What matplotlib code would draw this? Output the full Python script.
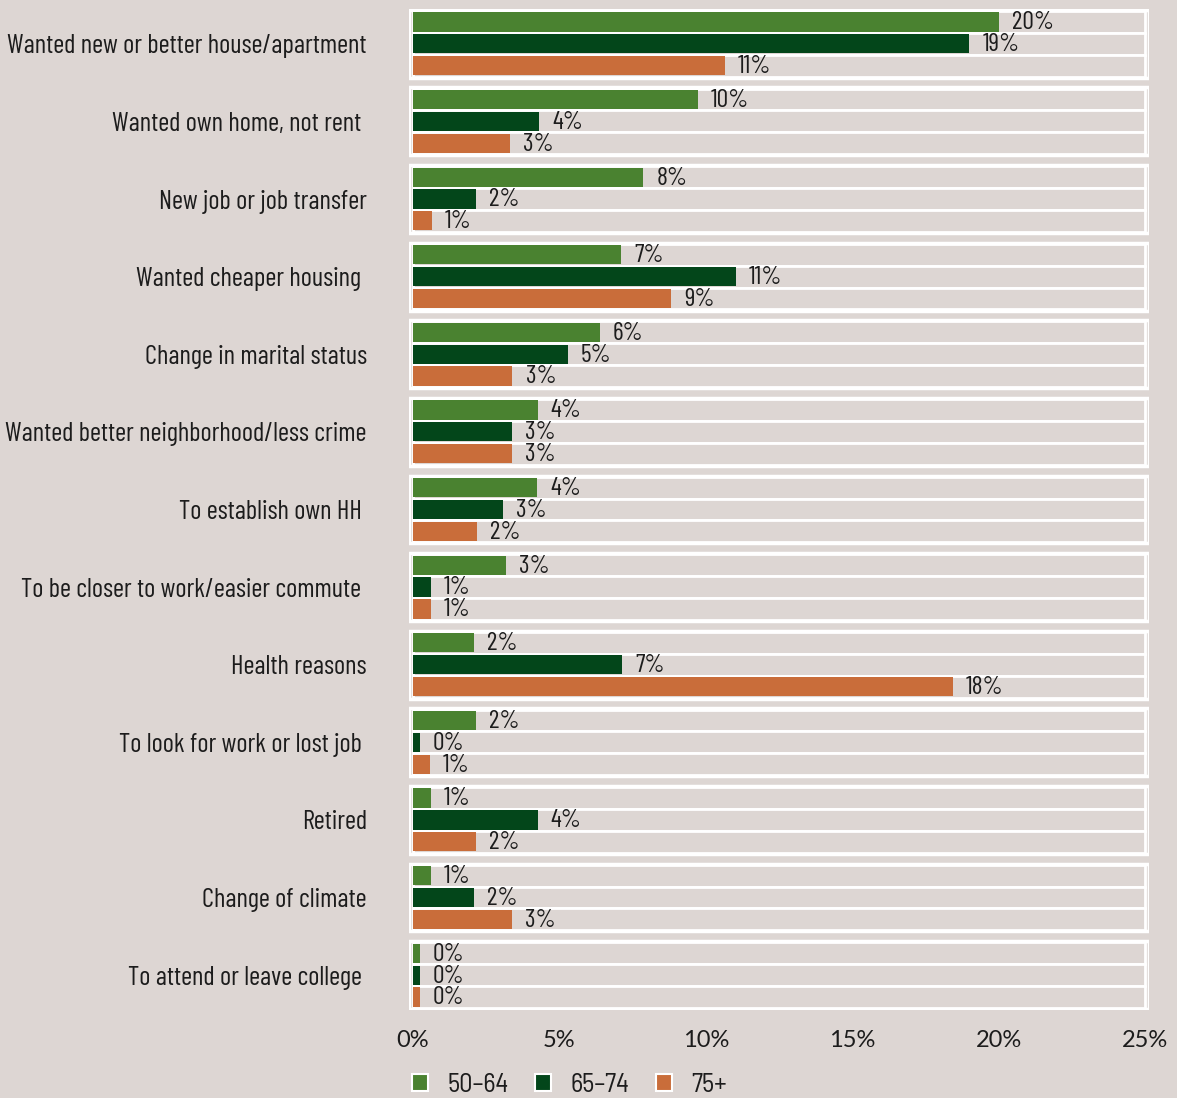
import matplotlib
matplotlib.use("Agg")
from matplotlib import pyplot as plt
from matplotlib.patches import Rectangle, Patch

reasons = [
    "Wanted new or better house/apartment",
    "Wanted own home, not rent ",
    "New job or job transfer",
    "Wanted cheaper housing ",
    "Change in marital status",
    "Wanted better neighborhood/less crime",
    "To establish own HH ",
    "To be closer to work/easier commute ",
    "Health reasons",
    "To look for work or lost job ",
    "Retired",
    "Change of climate",
    "To attend or leave college ",
]
age_groups = ["50\u201364", "65\u201374", "75+"]

# share of movers (%) per reason, by age group
pct_50_64 = [20.0, 9.73, 7.86, 7.1, 6.38, 4.26, 4.23, 3.17, 2.07, 2.15, 0.61, 0.61, 0.23]
pct_65_74 = [19.0, 4.3, 2.15, 11.03, 5.29, 3.37, 3.06, 0.61, 7.14, 0.23, 4.26, 2.07, 0.23]
pct_75_up = [10.65, 3.3, 0.64, 8.81, 3.4, 3.37, 2.18, 0.61, 18.44, 0.57, 2.15, 3.37, 0.23]

xticks = [0, 5, 10, 15, 20, 25]

BG = "#ddd6d3"
COLORS = ["#4a8230", "#03461a", "#c96d3a"]
TEXT = "#1c1c1c"

plt.rcParams["font.family"] = ["Barlow Condensed", "DejaVu Sans"]
plt.rcParams["font.size"] = 18

fig = plt.figure(figsize=(11.77, 10.98), dpi=100, facecolor=BG)
ax = fig.add_axes([0.3471, 0.08, 0.6294, 0.912])
ax.set_facecolor(BG)

pitch = 3.55
xmax = 25
series = [pct_50_64, pct_65_74, pct_75_up]

for g, name in enumerate(reasons):
    top = g * pitch
    # white frame around each group of three rows
    ax.add_patch(Rectangle((-0.15, top - 0.55), xmax + 0.3, 3.1, facecolor=BG,
                           edgecolor="white", lw=2.5, zorder=1))
    for r, vals in enumerate(series):
        y = top + r
        ax.barh(y, xmax, height=1.0, left=0, color=BG, edgecolor="white", lw=2, zorder=2)
        ax.barh(y, vals[g], height=0.88, color=COLORS[r], zorder=3)
        ax.text(vals[g] + 0.45, y + 0.04, f"{vals[g]:.0f}%", va="center", ha="left",
                color=TEXT, fontsize=18.5, zorder=4)

ax.set_yticks([g * pitch + 1 for g in range(len(reasons))])
ax.set_yticklabels(reasons, fontsize=19.2, color=TEXT)
ax.set_xticks(xticks)
ax.set_xticklabels([f"{t}%" for t in xticks], fontsize=17, color=TEXT,
                   family=["Lato", "DejaVu Sans"])
ax.tick_params(length=0)
ax.tick_params(axis="y", pad=30)
ax.tick_params(axis="x", pad=14)
ax.set_xlim(-0.15, xmax + 0.15)
ax.set_ylim((len(reasons) - 1) * pitch + 2.6, -0.6)
for s in ax.spines.values():
    s.set_visible(False)

handles = [Patch(facecolor=c, edgecolor="white", lw=1.5) for c in COLORS]
fig.legend(handles, age_groups, loc="center", bbox_to_anchor=(0.484, 0.012), ncol=3,
           frameon=False, handlelength=0.6, handleheight=0.6,
           handletextpad=0.75, columnspacing=1.0, labelcolor=TEXT,
           prop={"family": ["Barlow Semi Condensed", "DejaVu Sans"], "size": 19})

fig.savefig("out.png", dpi=100, facecolor=BG)
